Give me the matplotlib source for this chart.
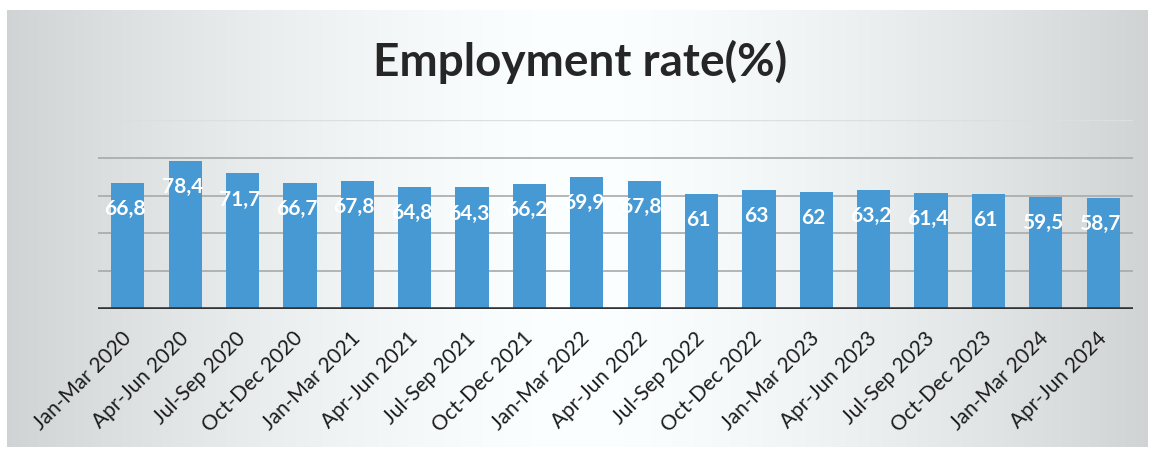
import numpy as np
import matplotlib
matplotlib.use("Agg")
import matplotlib.pyplot as plt

quarters = [
    "Jan-Mar 2020", "Apr-Jun 2020", "Jul-Sep 2020", "Oct-Dec 2020",
    "Jan-Mar 2021", "Apr-Jun 2021", "Jul-Sep 2021", "Oct-Dec 2021",
    "Jan-Mar 2022", "Apr-Jun 2022", "Jul-Sep 2022", "Oct-Dec 2022",
    "Jan-Mar 2023", "Apr-Jun 2023", "Jul-Sep 2023", "Oct-Dec 2023",
    "Jan-Mar 2024", "Apr-Jun 2024",
]
employment_rate = [
    66.8, 78.4, 71.7, 66.7, 67.8, 64.8, 64.3, 66.2, 69.9,
    67.8, 61.0, 63.0, 62.0, 63.2, 61.4, 61.0, 59.5, 58.7,
]
grid_levels = [20, 40, 60, 80]

W, H = 1155, 450
fig = plt.figure(figsize=(W / 100, H / 100), dpi=100)
fig.patch.set_facecolor("white")

# soft grey-white-grey backdrop behind the chart
bg = fig.add_axes([7 / W, 3 / H, 1141 / W, 437 / H], zorder=-5)
xs = np.linspace(-1, 1, 600)
shade = 1 - 0.17 * np.abs(xs) ** 1.5
img = np.tile(shade, (50, 1))
rgb = np.clip(np.dstack([img * 0.985, img, img]), 0, 1)
bg.imshow(rgb, aspect="auto", extent=[0, 1, 0, 1])
bg.set_axis_off()

ax = fig.add_axes([98 / W, 1 - 309 / H, 1035 / W, 189 / H])
ax.patch.set_alpha(0)

x = np.arange(len(quarters))
ax.bar(x, employment_rate, width=0.58, color="#4799d3", zorder=3)

for lvl in grid_levels:
    ax.axhline(lvl, color="#a9a9a9", lw=1.2, zorder=1)
ax.axhline(100, color="#dedede", lw=1.0, zorder=1)
ax.axhline(0, color="#333333", lw=2.6, zorder=4)

for xi, v in zip(x, employment_rate):
    txt = f"{v:g}".replace(".", ",")
    ax.annotate(txt, (xi, v), xytext=(-3, -26), textcoords="offset pixels",
                ha="center", va="center", color="white", fontsize=15,
                fontweight="bold", family="Lato", zorder=5)

ax.set_xlim(-0.52, len(quarters) - 0.48)
ax.set_ylim(0, 100)
ax.set_yticks([])
ax.set_xticks(x)
ax.set_xticklabels(quarters, rotation=45, ha="right", va="center",
                   rotation_mode="anchor", fontsize=15, family="Lato",
                   color="#1c1c1c")
ax.tick_params(axis="x", length=0, pad=19)
for s in ax.spines.values():
    s.set_visible(False)

fig.text(0.502, 1 - 62 / H, "Employment rate(%)", ha="center", va="center",
         fontsize=33, fontweight="bold", family="Lato", color="#262626")

fig.savefig("out.png", dpi=100)
